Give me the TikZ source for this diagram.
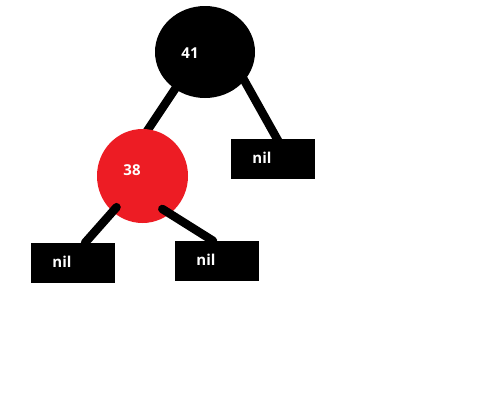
\documentclass[tikz,border=0pt]{standalone}
\usepackage{fontspec}
\setmainfont{Open Sans}
\usepackage{xcolor}
\usepackage{tikz}
\usetikzlibrary{shapes,positioning,calc,backgrounds}
\definecolor{paintred}{RGB}{237,28,36}

\begin{document}
\begin{tikzpicture}[x=1pt,y=-1pt,
    treenode/.style={ellipse, inner sep=0pt},
    leafbox/.style={rectangle, fill=black, minimum width=84pt, minimum height=40pt, inner sep=0pt},
    keytext/.style={text=white, font=\fontsize{15}{17}\selectfont\bfseries, inner sep=0pt},
    edge/.style={line width=8.5pt, black}]
    \useasboundingbox (0,0) rectangle (500,400);

    % Root 41 (black)
    \node[treenode, fill=black, minimum width=100pt, minimum height=92pt] (n41) at (205,52) {};
    \node[keytext] (t41) at ($(n41)+(-15,1)$) {41};

    % Left child 38 (red)
    \node[treenode, fill=paintred, minimum width=91pt, minimum height=94pt] (n38) at (142.5,176) {};
    \node[keytext] (t38) at ($(n38)+(-10.5,-6)$) {38};

    % Nil leaves
    \node[leafbox] (nilR) at (273,159) {};
    \node[keytext] (tnilR) at ($(nilR)+(-11,-1)$) {nil};
    \node[leafbox] (nilL) at (73,263) {};
    \node[keytext] (tnilL) at ($(nilL)+(-11,-1)$) {nil};
    \node[leafbox] (nilM) at (217,261) {};
    \node[keytext] (tnilM) at ($(nilM)+(-11,-1)$) {nil};

    % Edges from the root
    \begin{scope}[on background layer]
    \draw[edge, shorten <=-6pt, shorten >=-6pt] (n41.231) -- (n38.83);
    \draw[edge, shorten <=-6pt, shorten >=-4pt] (n41.324) -- ([xshift=4pt]nilR.north);
    \end{scope}

    % Edges from 38
    \draw[edge, line cap=round, shorten <=-6pt] (n38.230) -- ([xshift=12pt]nilL.north);
    \draw[edge, line cap=round, shorten <=-9pt] (n38.306) -- ([xshift=-4pt]nilM.north);
\end{tikzpicture}
\end{document}
